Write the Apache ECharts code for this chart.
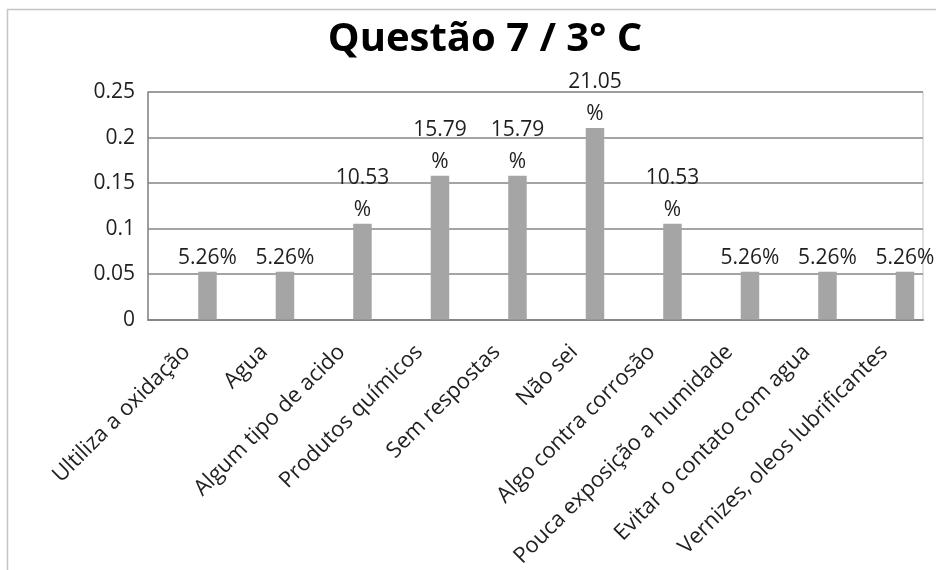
<!DOCTYPE html>
<html>
<head>
<meta charset="utf-8">
<script src="https://cdn.jsdelivr.net/npm/echarts@6/dist/echarts.min.js"></script>
<style>
  html, body { margin: 0; padding: 0; background: #ffffff; }
  #chart { width: 936px; height: 570px; }
</style>
</head>
<body>
<div id="chart"></div>
<script>
// Answers to question 7, class 3° C (share of students per answer)
const titleText = 'Questão 7 / 3° C';
const categories = [
  'Ultiliza a oxidação',
  'Agua',
  'Algum tipo de acido',
  'Produtos químicos',
  'Sem respostas',
  'Não sei',
  'Algo contra corrosão',
  'Pouca exposição a humidade',
  'Evitar o contato com agua',
  'Vernizes, oleos lubrificantes'
];
const shares = [0.0526, 0.0526, 0.1053, 0.1579, 0.1579, 0.2105, 0.1053, 0.0526, 0.0526, 0.0526];
const yTicks = [0, 0.05, 0.1, 0.15, 0.2, 0.25];

const FONT = '"Open Sans"';
const TEXT = '#1f1f1f';
const GRID_LINE = '#868686';

// percentage label; longer values wrap the % sign onto a second line
function pctLabel(v) {
  const s = (v * 100).toFixed(2);
  return s.length > 4 ? s + '\n%' : s + '%';
}

const chart = echarts.init(document.getElementById('chart'), null, { renderer: 'canvas' });
chart.setOption({
  animation: false,
  backgroundColor: '#ffffff',
  textStyle: { fontFamily: FONT },
  graphic: [{
    type: 'rect',
    shape: { x: 7.5, y: 9.5, width: 1000, height: 1000 },
    style: { fill: 'none', stroke: '#c4c4c4', lineWidth: 1.5 },
    silent: true,
    z: -10
  }],
  title: {
    text: titleText,
    left: 480,
    textAlign: 'center',
    top: 15,
    textStyle: { fontFamily: FONT, fontWeight: 'bold', fontSize: 40, color: '#000000' }
  },
  grid: {
    left: 148, right: 13, top: 92, bottom: 249,
    show: true, borderColor: '#c4c4c4', borderWidth: 1, backgroundColor: 'transparent'
  },
  xAxis: {
    type: 'category',
    data: categories,
    axisTick: { show: false },
    axisLine: { show: true, lineStyle: { color: GRID_LINE, width: 2 } },
    axisLabel: {
      interval: 0,
      rotate: 45,
      margin: 29,
      fontFamily: FONT,
      fontSize: 22,
      color: TEXT
    }
  },
  yAxis: {
    type: 'value',
    min: 0,
    max: 0.25,
    interval: 0.05,
    axisLine: { show: true, lineStyle: { color: GRID_LINE, width: 1.5 } },
    axisTick: { show: false },
    splitLine: { show: true, lineStyle: { color: GRID_LINE, width: 1.5 } },
    axisLabel: {
      margin: 13,
      fontFamily: FONT,
      fontSize: 21,
      color: TEXT,
      formatter: function (v) {
        const t = yTicks.find(function (k) { return Math.abs(k - v) < 1e-9; });
        return String(t !== undefined ? t : v);
      }
    }
  },
  series: [
    {
      // empty companion series: keeps the bar slot to the left of each category
      name: 'vazio',
      type: 'bar',
      barWidth: 18.5,
      barGap: '124%',
      data: categories.map(function () { return '-'; })
    },
    {
      name: 'Questão 7',
      type: 'bar',
      barWidth: 18.5,
      barGap: '124%',
      data: shares,
      itemStyle: { color: '#a5a5a5' },
      label: {
        show: true,
        position: 'top',
        distance: -2,
        fontFamily: FONT,
        fontSize: 21,
        lineHeight: 32,
        color: TEXT,
        formatter: function (p) { return pctLabel(p.value); }
      }
    }
  ]
});
</script>
</body>
</html>
